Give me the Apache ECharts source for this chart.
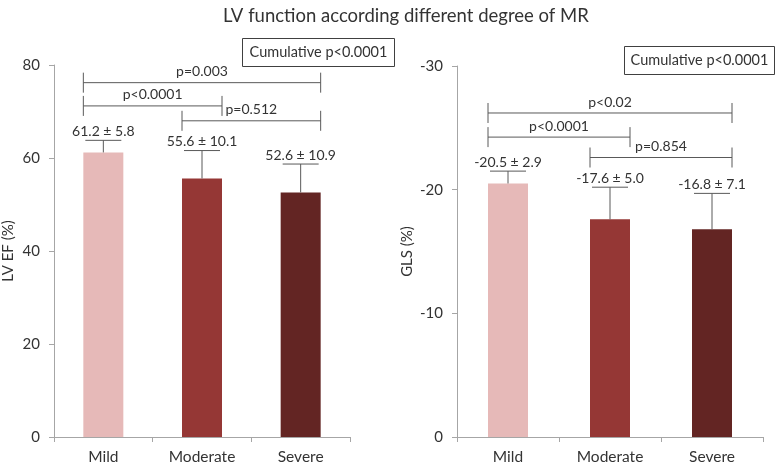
<!DOCTYPE html>
<html>
<head>
<meta charset="utf-8">
<script src="https://cdn.jsdelivr.net/npm/echarts@6/dist/echarts.min.js"></script>
<style>html,body{margin:0;padding:0;background:#fff;}#c{width:778px;height:467px;}</style>
</head>
<body>
<div id="c"></div>
<script>
const categories = ['Mild', 'Moderate', 'Severe'];
const barColors = ['#E6B9B8', '#953735', '#632523'];

// Left panel: LV EF (%)
const efMean = [61.2, 55.6, 52.6];
const efErrDrawn = [2.6, 6.0, 6.1];
const efLabels = ['61.2 ± 5.8', '55.6 ± 10.1', '52.6 ± 10.9'];
const efTicks = [0, 20, 40, 60, 80];
// brackets: [fromCategory, toCategory, yValue]
const efBrackets = [[0, 2, 76.2], [0, 1, 71.2], [1, 2, 68.0]];
const efBracketLabels = ['p=0.003', 'p<0.0001', 'p=0.512'];

// Right panel: GLS (%)
const glsMean = [-20.5, -17.6, -16.8];
const glsErrDrawn = [1.0, 2.6, 2.9];
const glsLabels = ['-20.5 ± 2.9', '-17.6 ± 5.0', '-16.8 ± 7.1'];
const glsTicks = [0, -10, -20, -30];
const glsBrackets = [[0, 2, -26.2], [0, 1, -24.25], [1, 2, -22.6]];
const glsBracketLabels = ['p<0.02', 'p<0.0001', 'p=0.854'];

const cumulativeText = 'Cumulative p<0.0001';
const titleText = 'LV function according different degree of MR';

const FONT = 'Lato';
const TXT = '#333333';
const LINE = '#595959';
const BARW = 40;

function errorData(mean, err, dir) {
  return mean.map((m, i) => [i, m, m + dir * err[i]]);
}

function errorRender(labels) {
  return function (params, api) {
    const i = api.value(0);
    const base = api.coord([i, api.value(1)]);
    const cap = api.coord([i, api.value(2)]);
    const hw = 18;
    return {
      type: 'group',
      children: [
        { type: 'line', shape: { x1: base[0], y1: base[1], x2: cap[0], y2: cap[1] }, style: { stroke: LINE, lineWidth: 1 } },
        { type: 'line', shape: { x1: cap[0] - hw, y1: cap[1], x2: cap[0] + hw, y2: cap[1] }, style: { stroke: LINE, lineWidth: 1 } },
        { type: 'text', x: cap[0], y: cap[1] - 2, style: { text: labels[i], fill: TXT, font: '14px ' + FONT, textAlign: 'center', textVerticalAlign: 'bottom' } }
      ]
    };
  };
}

function bracketRender(labels) {
  return function (params, api) {
    const a = api.coord([api.value(0), api.value(2)]);
    const b = api.coord([api.value(1), api.value(2)]);
    const x1 = a[0] - BARW / 2, x2 = b[0] + BARW / 2, y = a[1];
    const th = 10;
    return {
      type: 'group',
      children: [
        { type: 'line', shape: { x1: x1, y1: y, x2: x2, y2: y }, style: { stroke: LINE, lineWidth: 1 } },
        { type: 'line', shape: { x1: x1, y1: y - th, x2: x1, y2: y + th }, style: { stroke: LINE, lineWidth: 1 } },
        { type: 'line', shape: { x1: x2, y1: y - th, x2: x2, y2: y + th }, style: { stroke: LINE, lineWidth: 1 } },
        { type: 'text', x: (x1 + x2) / 2, y: y - 4, style: { text: labels[params.dataIndex], fill: TXT, font: '14px ' + FONT, textAlign: 'center', textVerticalAlign: 'bottom' } }
      ]
    };
  };
}

const axisLineStyle = { color: '#A6A6A6', width: 1 };

function xAxisCfg(gridIndex) {
  return {
    type: 'category', gridIndex: gridIndex, data: categories,
    axisLine: { lineStyle: axisLineStyle },
    axisTick: { show: true, length: 5, lineStyle: axisLineStyle },
    axisLabel: { color: TXT, fontFamily: FONT, fontSize: 15.5, margin: 12 },
    splitLine: { show: false }
  };
}

const chart = echarts.init(document.getElementById('c'), null, { renderer: 'canvas' });
chart.setOption({
  animation: false,
  backgroundColor: '#fff',
  title: {
    text: titleText, left: 218, top: 2,
    textStyle: { fontFamily: FONT, fontSize: 18.5, fontWeight: 'normal', color: TXT }
  },
  grid: [
    { left: 52, top: 65, width: 298, height: 372, containLabel: false },
    { left: 457, top: 66, width: 306, height: 371, containLabel: false }
  ],
  xAxis: [xAxisCfg(0), xAxisCfg(1)],
  yAxis: [
    {
      type: 'value', gridIndex: 0, min: efTicks[0], max: efTicks[efTicks.length - 1], interval: 20,
      name: 'LV EF (%)', nameLocation: 'middle', nameGap: 38,
      nameTextStyle: { fontFamily: FONT, fontSize: 15, color: TXT },
      axisLine: { show: true, lineStyle: axisLineStyle },
      axisTick: { show: true, length: 5, lineStyle: axisLineStyle },
      axisLabel: { color: TXT, fontFamily: FONT, fontSize: 15, margin: 14 },
      splitLine: { show: false }
    },
    {
      type: 'value', gridIndex: 1, min: glsTicks[glsTicks.length - 1], max: glsTicks[0], interval: 10, inverse: true,
      name: 'GLS (%)', nameLocation: 'middle', nameGap: 42,
      nameTextStyle: { fontFamily: FONT, fontSize: 15, color: TXT },
      axisLine: { show: true, lineStyle: axisLineStyle },
      axisTick: { show: true, length: 5, lineStyle: axisLineStyle },
      axisLabel: { color: TXT, fontFamily: FONT, fontSize: 15, margin: 14, formatter: v => String(v) },
      splitLine: { show: false }
    }
  ],
  series: [
    {
      type: 'bar', xAxisIndex: 0, yAxisIndex: 0, barWidth: BARW,
      data: efMean.map((v, i) => ({ value: v, itemStyle: { color: barColors[i] } }))
    },
    {
      type: 'bar', xAxisIndex: 1, yAxisIndex: 1, barWidth: BARW,
      data: glsMean.map((v, i) => ({ value: v, itemStyle: { color: barColors[i] } }))
    },
    {
      type: 'custom', xAxisIndex: 0, yAxisIndex: 0, z: 5,
      data: errorData(efMean, efErrDrawn, 1), renderItem: errorRender(efLabels)
    },
    {
      type: 'custom', xAxisIndex: 1, yAxisIndex: 1, z: 5,
      data: errorData(glsMean, glsErrDrawn, -1), renderItem: errorRender(glsLabels)
    },
    {
      type: 'custom', xAxisIndex: 0, yAxisIndex: 0, z: 5,
      data: efBrackets, renderItem: bracketRender(efBracketLabels)
    },
    {
      type: 'custom', xAxisIndex: 1, yAxisIndex: 1, z: 5,
      data: glsBrackets, renderItem: bracketRender(glsBracketLabels)
    }
  ],
  graphic: [
    {
      type: 'group', left: 242, top: 38,
      children: [
        { type: 'rect', shape: { x: 0, y: 0, width: 152, height: 28 }, style: { fill: '#fff', stroke: '#404040', lineWidth: 1 } },
        { type: 'text', x: 76, y: 14, style: { text: cumulativeText, fill: TXT, font: '14.5px ' + FONT, textAlign: 'center', textVerticalAlign: 'middle' } }
      ]
    },
    {
      type: 'group', left: 624, top: 46,
      children: [
        { type: 'rect', shape: { x: 0, y: 0, width: 150, height: 28 }, style: { fill: '#fff', stroke: '#404040', lineWidth: 1 } },
        { type: 'text', x: 75, y: 14, style: { text: cumulativeText, fill: TXT, font: '14.5px ' + FONT, textAlign: 'center', textVerticalAlign: 'middle' } }
      ]
    }
  ]
});
</script>
</body>
</html>
